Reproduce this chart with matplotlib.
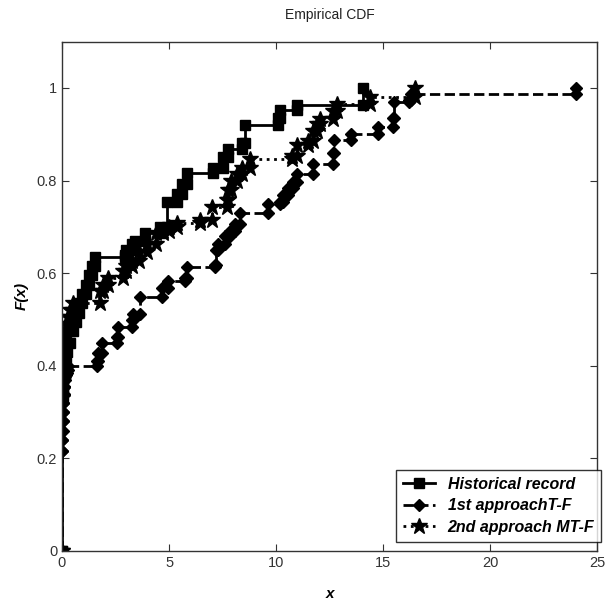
import numpy as np
import matplotlib
matplotlib.use("Agg")
import matplotlib.pyplot as plt

# empirical CDF points (x, F)
hist_x = [0, 0, 0.03, 0.07, 0.12, 0.18, 0.25, 0.37, 0.5, 0.65, 0.8, 0.95, 1.1, 1.25, 1.4, 1.54,
          2.94, 3.0, 3.26, 3.4, 3.87, 4.57, 4.9, 5.36, 5.6, 5.83, 7.04, 7.5, 7.74, 8.4, 8.54,
          10.07, 10.17, 10.96, 14.04]
hist_F = [0, 0.33, 0.355, 0.38, 0.405, 0.43, 0.45, 0.476, 0.495, 0.515, 0.535, 0.555, 0.575,
          0.595, 0.615, 0.634, 0.64, 0.649, 0.664, 0.67, 0.686, 0.70, 0.753, 0.772, 0.793, 0.817,
          0.828, 0.85, 0.869, 0.882, 0.919, 0.935, 0.952, 0.963, 1.0]

first_x = [0, 0.0, 0.01, 0.02, 0.03, 0.04, 0.05, 0.06, 0.08, 0.1, 0.13, 0.17, 0.22, 0.3,
           1.63, 1.68, 1.86, 2.56, 2.6, 3.26, 3.3, 3.64, 4.66, 4.94, 5.74, 5.83, 7.14, 7.18,
           7.28, 7.6, 7.84, 8.07, 8.3, 9.6, 10.17, 10.3, 10.54, 10.77, 10.96, 11.7, 12.64,
           12.68, 13.5, 14.75, 15.45, 15.5, 16.2, 16.3, 24.0]
first_F = [0, 0.217, 0.24, 0.26, 0.28, 0.30, 0.32, 0.34, 0.355, 0.37, 0.38, 0.385, 0.39, 0.4,
           0.41, 0.427, 0.45, 0.462, 0.483, 0.498, 0.512, 0.548, 0.567, 0.584, 0.589, 0.613,
           0.617, 0.649, 0.664, 0.681, 0.692, 0.707, 0.731, 0.75, 0.753, 0.768, 0.783, 0.796,
           0.815, 0.836, 0.86, 0.887, 0.9, 0.915, 0.935, 0.969, 0.975, 0.988, 1.0]

second_x = [0, 0, 0.01, 0.02, 0.03, 0.05, 0.07, 0.1, 0.14, 0.2, 0.28, 0.37, 0.5, 1.77, 1.9,
            2.15, 2.85, 3.0, 3.26, 3.6, 3.96, 4.4, 4.7, 5.0, 5.36, 6.44, 7.0, 7.7, 7.75, 7.9,
            8.16, 8.4, 8.77, 10.73, 10.96, 11.47, 11.7, 11.9, 12.03, 12.64, 12.83, 14.37, 16.46]
second_F = [0, 0.33, 0.35, 0.37, 0.39, 0.41, 0.43, 0.45, 0.47, 0.49, 0.505, 0.52, 0.535, 0.562,
            0.575, 0.59, 0.605, 0.615, 0.627, 0.645, 0.664, 0.686, 0.692, 0.70, 0.709, 0.714,
            0.742, 0.757, 0.779, 0.8, 0.815, 0.828, 0.847, 0.853, 0.876, 0.886, 0.908, 0.922,
            0.933, 0.951, 0.966, 0.98, 1.0]

labels = ["Historical record", "1st approachT-F", "2nd approach MT-F"]


def stairs(x, f):
    """vertices of a post-step curve, so markers sit on every corner"""
    x = np.asarray(x, dtype=float)
    f = np.asarray(f, dtype=float)
    xx = np.repeat(x, 2)[1:]
    ff = np.repeat(f, 2)[:-1]
    return xx, ff


plt.rcParams['font.family'] = ['Liberation Sans', 'DejaVu Sans']

fig = plt.figure(figsize=(6.15, 6.05), dpi=100)
ax = fig.add_axes([0.1008, 0.0893, 0.8707, 0.8418])

styles = [("-", "s", 7), ("--", "D", 6.5), (":", "*", 12)]
series = [(hist_x, hist_F), (first_x, first_F), (second_x, second_F)]
for (x, f), (ls, mk, ms), lab in zip(series, styles, labels):
    xx, ff = stairs(x, f)
    ax.plot(xx, ff, color="black", linestyle=ls, linewidth=2.0, marker=mk, markersize=ms,
            markerfacecolor="black", markeredgecolor="black", label=lab)

ax.set_xlim(0, 25)
ax.set_ylim(0, 1.1)
ax.set_xticks([0, 5, 10, 15, 20, 25])
ax.set_yticks([0, 0.2, 0.4, 0.6, 0.8, 1])
ax.set_yticklabels(["0", "0.2", "0.4", "0.6", "0.8", "1"])
ax.tick_params(direction="in", top=True, right=True, length=5, labelsize=10.5, colors="#333333")
for sp in ax.spines.values():
    sp.set_color("#333333")
    sp.set_linewidth(1.0)

ax.set_title("Empirical CDF", fontsize=10, color="#222222", pad=16)
ax.set_xlabel("x", fontsize=11, fontweight="bold", fontstyle="italic", labelpad=12)
ax.set_ylabel("F(x)", fontsize=11, fontweight="bold", fontstyle="italic", labelpad=6)

leg = ax.legend(loc="lower right", bbox_to_anchor=(1.0075, 0.0177), frameon=True,
                fancybox=False, borderpad=0.45, handlelength=2.0, labelspacing=0.4,
                borderaxespad=0.0,
                prop={"family": ["Liberation Sans Narrow", "Liberation Sans"],
                      "style": "italic", "weight": "bold", "size": 11.5})
leg.get_frame().set_edgecolor("black")
leg.get_frame().set_linewidth(1.0)

fig.savefig("out.png", dpi=100)
